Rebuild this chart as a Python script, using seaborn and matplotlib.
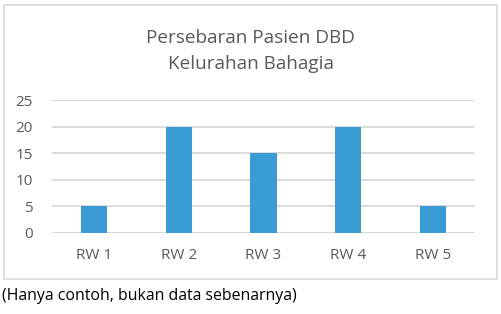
import matplotlib
matplotlib.use("Agg")
import matplotlib.pyplot as plt
import seaborn as sns
import pandas as pd
from matplotlib.patches import Rectangle

categories = ["RW 1", "RW 2", "RW 3", "RW 4", "RW 5"]
values = [5, 20, 15, 20, 5]
yticks = [0, 5, 10, 15, 20, 25]
title = "Persebaran Pasien DBD\nKelurahan Bahagia"
caption = "(Hanya contoh, bukan data sebenarnya)"

sns.set_theme(style="white")
plt.rcParams["font.family"] = ["Open Sans", "DejaVu Sans"]

df = pd.DataFrame({"cat": categories, "val": values})

fig = plt.figure(figsize=(5.01, 3.14), dpi=100)
fig.patch.set_facecolor("white")

# chart border box
fig.patches.append(Rectangle((4 / 501, 1 - 279 / 314), 493 / 501, 274 / 314,
                             transform=fig.transFigure, fill=False,
                             edgecolor="#d9d9d9", linewidth=1.2))

ax = fig.add_axes([52 / 501, 1 - 233 / 314, 423 / 501, 133 / 314])
sns.barplot(data=df, x="cat", y="val", color="#3A9BD5", width=0.31,
            saturation=1, ax=ax, zorder=3, linewidth=0)
ax.set_ylim(0, 25)
ax.set_xlim(-0.5, 4.5)
ax.set_yticks(yticks)
ax.yaxis.grid(True, color="#d9d9d9", linewidth=1.3, zorder=0)
ax.set_axisbelow(True)
for s in ax.spines.values():
    s.set_visible(False)
ax.axhline(0, color="#d9d9d9", linewidth=1.3, zorder=1)
ax.set_xlabel("")
ax.set_ylabel("")
ax.tick_params(axis="y", length=0, pad=14, labelsize=11, labelcolor="#595959")
ax.tick_params(axis="x", length=0, pad=11, labelsize=11, labelcolor="#595959")

fig.text(0.5, 1 - 51 / 314, title, ha="center", va="center", fontsize=13.6,
         color="#595959", linespacing=1.55)
fig.text(2 / 501, 1 - 296 / 314, caption, ha="left", va="center", fontsize=11.4,
         color="black")

fig.savefig("out.png", dpi=100)
